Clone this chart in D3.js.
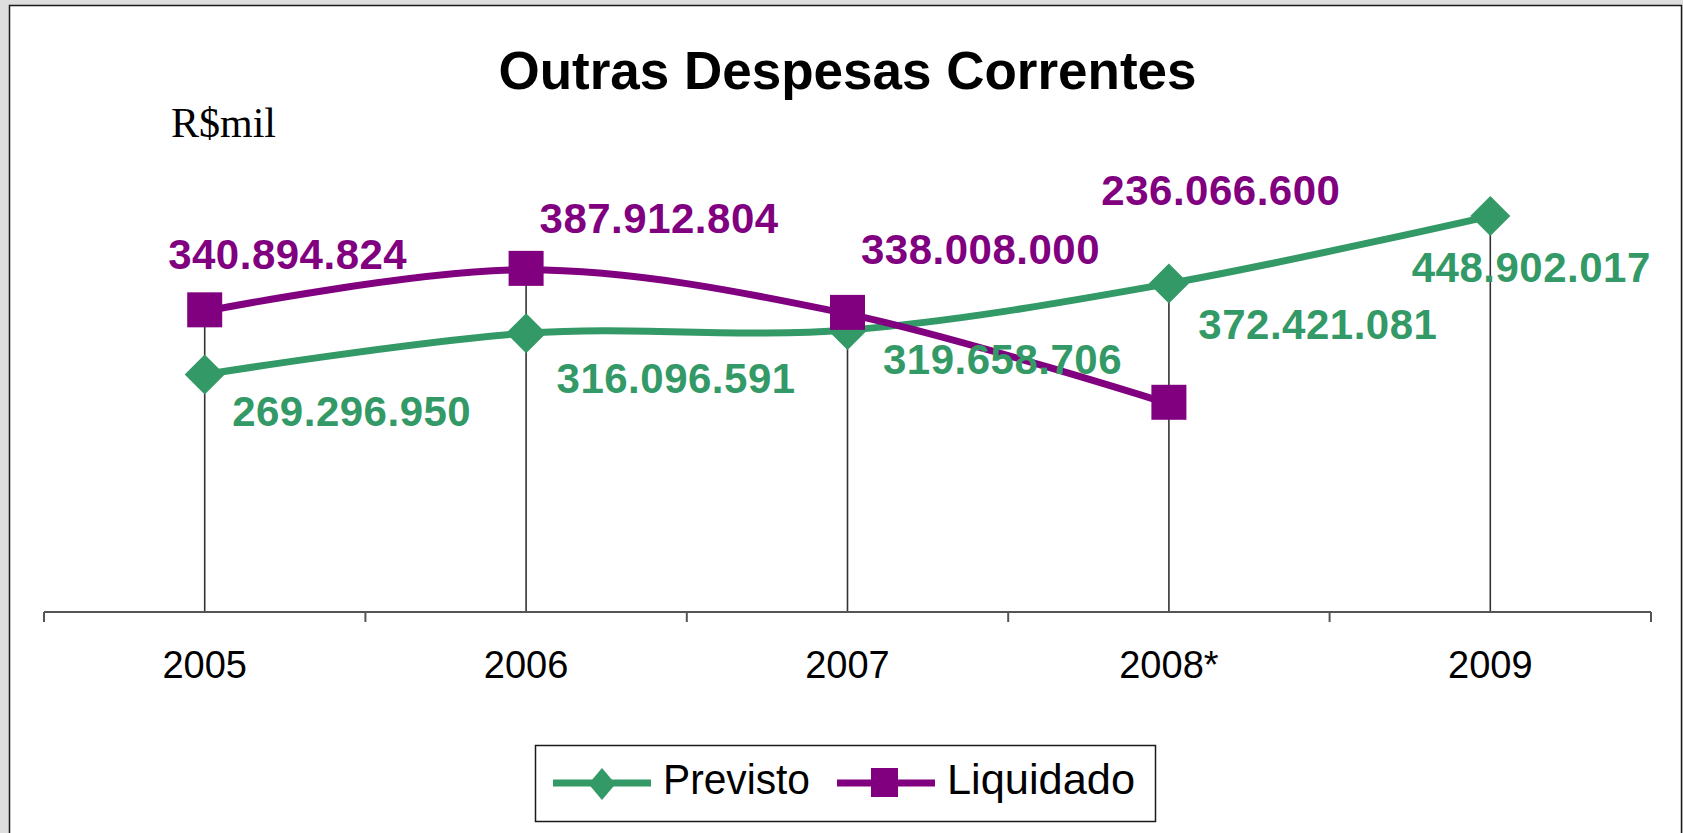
<!DOCTYPE html>
<html>
<head>
<meta charset="utf-8">
<script src="https://cdn.jsdelivr.net/npm/d3@7"></script>
<style>
  html, body { margin: 0; padding: 0; background: #dedede; }
  svg { display: block; }
</style>
</head>
<body>
<svg id="chart" width="1683" height="833"></svg>
<script>
// Outras Despesas Correntes, R$ mil
const categories = ["2005", "2006", "2007", "2008*", "2009"];
const previsto = [269296950, 316096591, 319658706, 372421081, 448902017];
const liquidado = [340894824, 387912804, 338008000, 236066600];
const seriesNames = ["Previsto", "Liquidado"];

// label placement relative to each point (centre of the label)
const previstoLabelOffset = [[147, 37], [150, 45], [155, 29], [149, 40], [41, 51]];
const liquidadoLabelOffset = [[83, -57], [133, -52], [133, -65], [52, -214]];

const GREEN = "#339966";
const PURPLE = "#800080";

const svg = d3.select("#chart");

// white chart sheet with frame
svg.append("rect")
  .attr("x", 9.5).attr("y", 5.5)
  .attr("width", 1672).attr("height", 840)
  .attr("fill", "#ffffff")
  .attr("stroke", "#1a1a1a").attr("stroke-width", 1.5);

const plot = { left: 44, right: 1651, top: 171, bottom: 612 };

const x = d3.scaleBand().domain(categories).range([plot.left, plot.right]);
const cx = c => x(c) + x.bandwidth() / 2;
const y = d3.scaleLinear().domain([0, 500000000]).range([plot.bottom, plot.top]);

const br = d3.formatLocale({ decimal: ",", thousands: ".", grouping: [3], currency: ["R$", ""] });
const fmt = br.format(",d");

// title and unit
svg.append("text")
  .attr("x", (plot.left + plot.right) / 2).attr("y", 89)
  .attr("text-anchor", "middle")
  .attr("font-family", "Liberation Sans, Arial, sans-serif")
  .attr("font-weight", "bold").attr("font-size", 53)
  .attr("fill", "#000")
  .text("Outras Despesas Correntes");

svg.append("text")
  .attr("x", 171).attr("y", 137)
  .attr("font-family", "Liberation Serif, Times New Roman, serif")
  .attr("font-size", 42)
  .attr("fill", "#000")
  .text("R$mil");

// drop lines from the highest point of each category to the axis
const tops = categories.map((c, i) => {
  const vals = [previsto[i], liquidado[i]].filter(v => v != null);
  return { c, v: d3.max(vals) };
});
svg.append("g").selectAll("line").data(tops).join("line")
  .attr("x1", d => cx(d.c)).attr("x2", d => cx(d.c))
  .attr("y1", d => y(d.v)).attr("y2", plot.bottom)
  .attr("stroke", "#333").attr("stroke-width", 1.6);

// category axis with ticks between categories
svg.append("line")
  .attr("x1", plot.left).attr("x2", plot.right)
  .attr("y1", plot.bottom).attr("y2", plot.bottom)
  .attr("stroke", "#555").attr("stroke-width", 2);
const boundaries = categories.map(c => x(c)).concat([x(categories[categories.length - 1]) + x.bandwidth()]);
svg.append("g").selectAll("line").data(boundaries).join("line")
  .attr("x1", d => d).attr("x2", d => d)
  .attr("y1", plot.bottom).attr("y2", plot.bottom + 10)
  .attr("stroke", "#555").attr("stroke-width", 2);
svg.append("g").selectAll("text").data(categories).join("text")
  .attr("x", d => cx(d)).attr("y", 678)
  .attr("text-anchor", "middle")
  .attr("font-family", "Liberation Sans, Arial, sans-serif")
  .attr("font-size", 38)
  .attr("fill", "#000")
  .text(d => d);

// series lines (smoothed)
const line = d3.line()
  .x(d => cx(d.c)).y(d => y(d.v))
  .curve(d3.curveCatmullRom.alpha(0));

const previstoPts = categories.map((c, i) => ({ c, v: previsto[i] }));
const liquidadoPts = liquidado.map((v, i) => ({ c: categories[i], v }));

svg.append("path").datum(previstoPts)
  .attr("d", line).attr("fill", "none")
  .attr("stroke", GREEN).attr("stroke-width", 7).attr("stroke-linejoin", "round");
svg.append("path").datum(liquidadoPts)
  .attr("d", line).attr("fill", "none")
  .attr("stroke", PURPLE).attr("stroke-width", 7).attr("stroke-linejoin", "round");

// markers
const diamond = (w, h) => `M0,${-h / 2}L${w / 2},0L0,${h / 2}L${-w / 2},0Z`;
svg.append("g").selectAll("path").data(previstoPts).join("path")
  .attr("transform", d => `translate(${cx(d.c)},${y(d.v)})`)
  .attr("d", diamond(40, 40))
  .attr("fill", GREEN);
svg.append("g").selectAll("rect").data(liquidadoPts).join("rect")
  .attr("x", d => cx(d.c) - 17.5).attr("y", d => y(d.v) - 17.5 - 1.5)
  .attr("width", 35).attr("height", 35)
  .attr("fill", PURPLE);

// data labels
const labelFont = "Liberation Sans, Arial, sans-serif";
svg.append("g").selectAll("text").data(previstoPts).join("text")
  .attr("x", (d, i) => cx(d.c) + previstoLabelOffset[i][0])
  .attr("y", (d, i) => y(d.v) + previstoLabelOffset[i][1] + 15)
  .attr("text-anchor", "middle")
  .attr("font-family", labelFont).attr("font-weight", "bold")
  .attr("font-size", 42).attr("letter-spacing", 0.5)
  .attr("fill", GREEN)
  .text(d => fmt(d.v));
svg.append("g").selectAll("text").data(liquidadoPts).join("text")
  .attr("x", (d, i) => cx(d.c) + liquidadoLabelOffset[i][0])
  .attr("y", (d, i) => y(d.v) + liquidadoLabelOffset[i][1] + 15)
  .attr("text-anchor", "middle")
  .attr("font-family", labelFont).attr("font-weight", "bold")
  .attr("font-size", 42).attr("letter-spacing", 0.5)
  .attr("fill", PURPLE)
  .text(d => fmt(d.v));

// legend
const lg = svg.append("g");
lg.append("rect")
  .attr("x", 535.5).attr("y", 745.5).attr("width", 620).attr("height", 76)
  .attr("fill", "#fff").attr("stroke", "#1a1a1a").attr("stroke-width", 1.5);
const legendItems = [
  { name: seriesNames[0], color: GREEN, x0: 553, textX: 663, textW: 147, shape: "diamond" },
  { name: seriesNames[1], color: PURPLE, x0: 837, textX: 947, textW: 188, shape: "square" }
];
const ly = 783;
legendItems.forEach(it => {
  lg.append("line")
    .attr("x1", it.x0).attr("x2", it.x0 + 98)
    .attr("y1", ly).attr("y2", ly)
    .attr("stroke", it.color).attr("stroke-width", 7);
  if (it.shape === "diamond") {
    lg.append("path")
      .attr("transform", `translate(${it.x0 + 49},${ly + 1})`)
      .attr("d", diamond(27, 32))
      .attr("fill", it.color);
  } else {
    lg.append("rect")
      .attr("x", it.x0 + 34).attr("y", ly - 15)
      .attr("width", 27).attr("height", 29)
      .attr("fill", it.color);
  }
  lg.append("text")
    .attr("x", it.textX).attr("y", 794)
    .attr("font-family", labelFont).attr("font-size", 42)
    .attr("textLength", it.textW).attr("lengthAdjust", "spacingAndGlyphs")
    .attr("fill", "#000")
    .text(it.name);
});
</script>
</body>
</html>
